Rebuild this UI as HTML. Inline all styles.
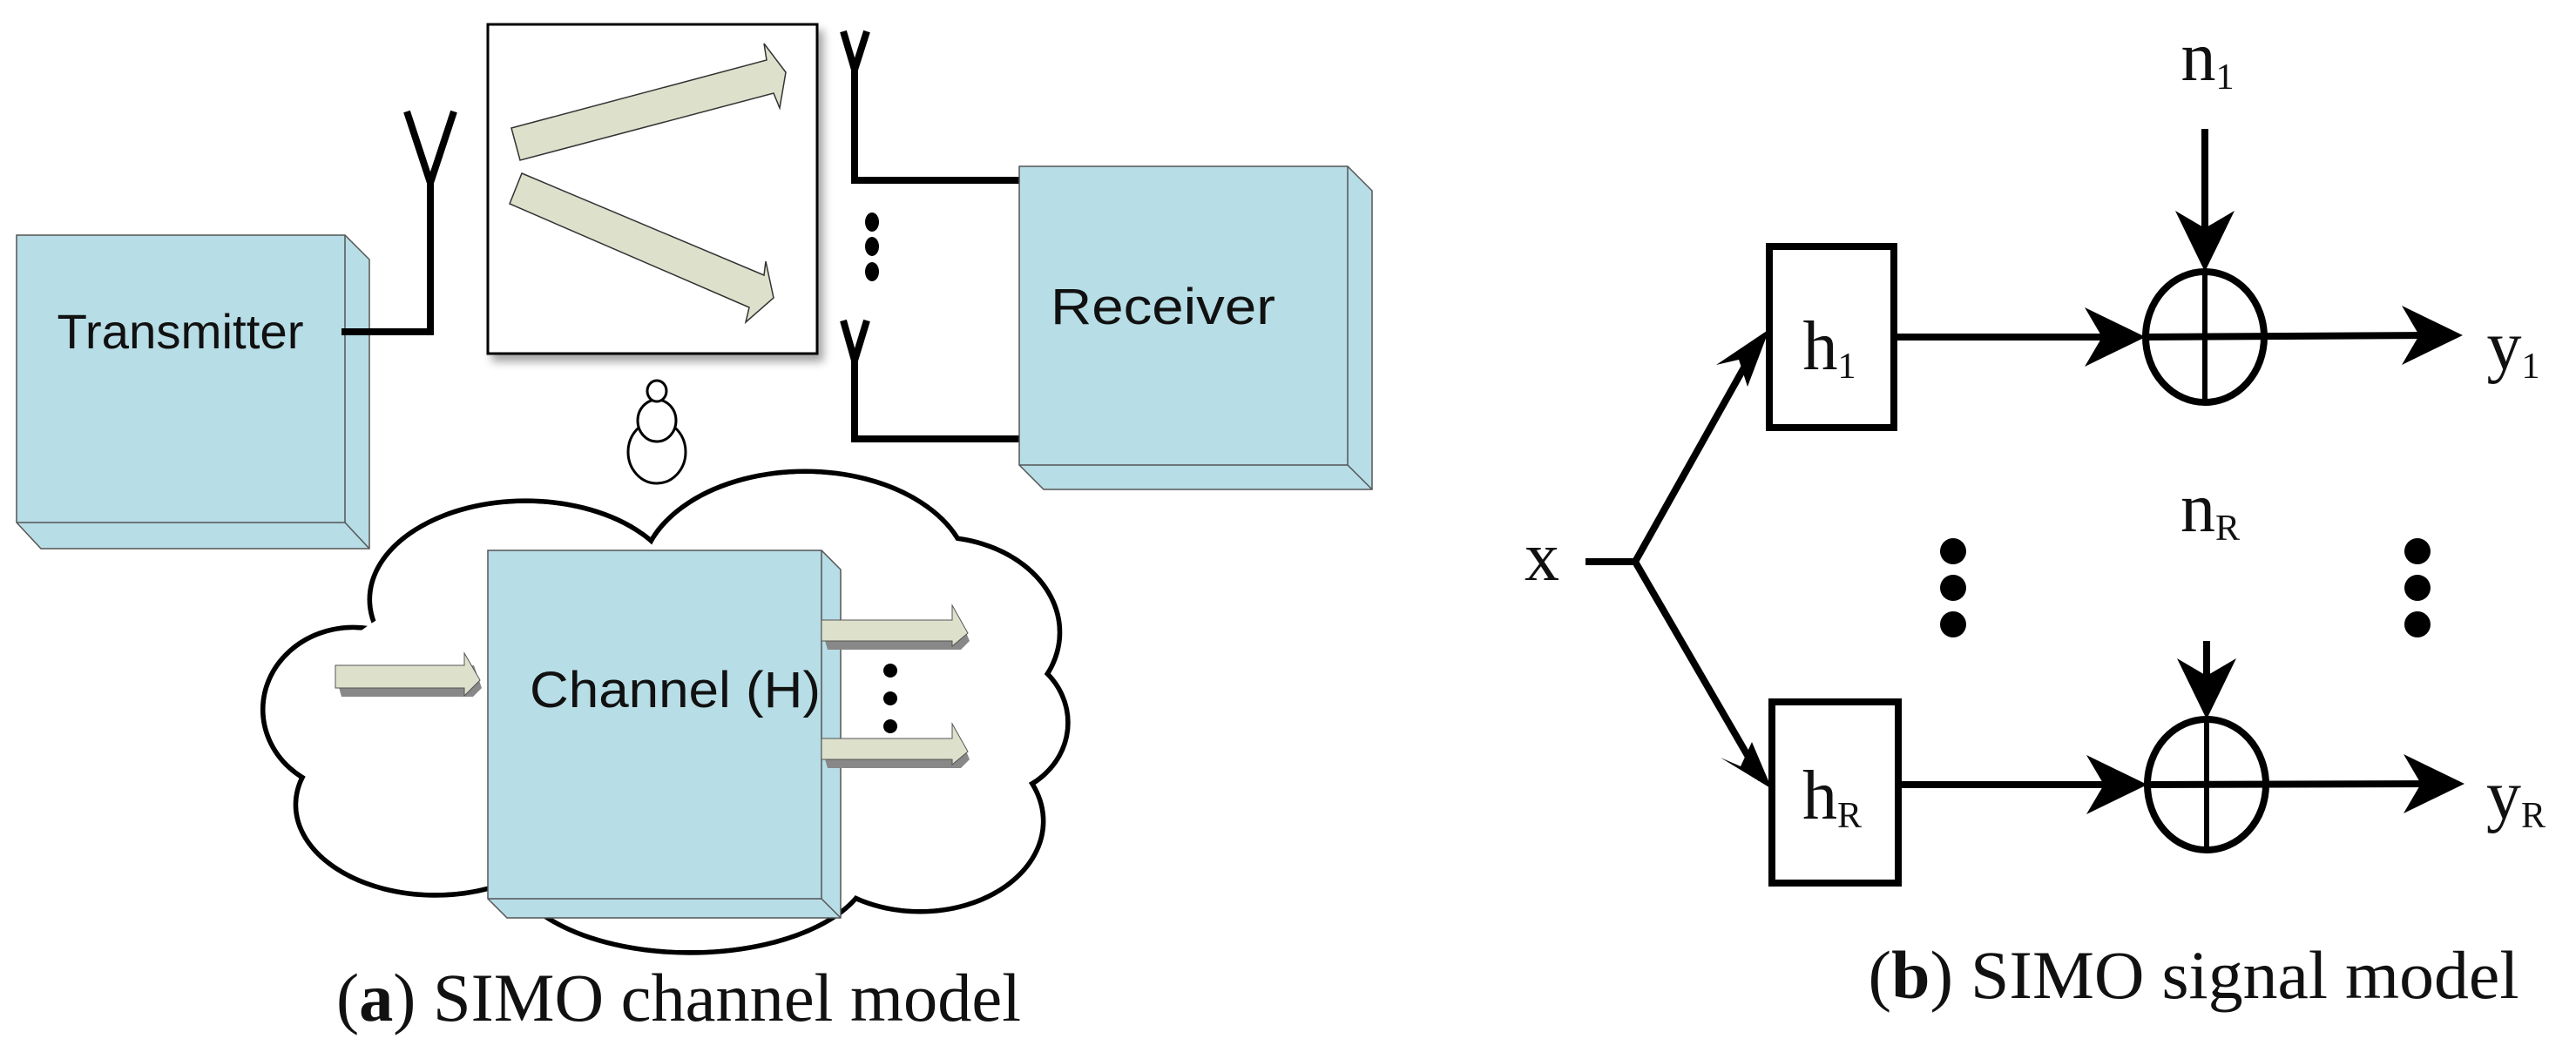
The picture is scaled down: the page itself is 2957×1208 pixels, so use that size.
<!DOCTYPE html>
<html><head><meta charset="utf-8"><style>
html,body{margin:0;padding:0;background:#fff;}
svg{display:block;}
</style></head><body>
<svg width="2957" height="1208" viewBox="0 0 2957 1208" xmlns="http://www.w3.org/2000/svg">
<defs>
<filter id="sh" x="-10%" y="-10%" width="130%" height="130%"><feDropShadow dx="6" dy="8" stdDeviation="5" flood-color="#000" flood-opacity="0.35"/></filter>
</defs>
<!-- Transmitter box -->
<polygon points="19,270 396,270 424,298 424,630 47,630 19,600" fill="#b7dde6" stroke="#555" stroke-width="1.5"/>
<line x1="396" y1="270" x2="396" y2="600" stroke="#555" stroke-width="1.5"/>
<line x1="19" y1="600" x2="396" y2="600" stroke="#555" stroke-width="1.5"/>
<line x1="396" y1="600" x2="424" y2="630" stroke="#555" stroke-width="1.5"/>
<text x="207" y="400" font-family="Liberation Sans, sans-serif" font-size="56" text-anchor="middle" textLength="283" lengthAdjust="spacingAndGlyphs" fill="#111">Transmitter</text>
<!-- Tx antenna -->
<polyline points="392,381 494,381 494,210" fill="none" stroke="#000" stroke-width="8"/>
<polyline points="467,128 494,210 521,128" fill="none" stroke="#000" stroke-width="8"/>
<!-- Cloud (overview coords scaled) -->
<g transform="scale(1.886)">
<g stroke="#000" stroke-width="3" fill="#fff">
<ellipse cx="320" cy="365" rx="95" ry="60"/>
<ellipse cx="490" cy="352" rx="100" ry="65"/>
<ellipse cx="570" cy="385" rx="75" ry="58"/>
<ellipse cx="600" cy="440" rx="50" ry="45"/>
<ellipse cx="560" cy="500" rx="75" ry="55"/>
<ellipse cx="420" cy="525" rx="110" ry="55"/>
<ellipse cx="265" cy="490" rx="85" ry="55"/>
<ellipse cx="215" cy="432" rx="55" ry="50"/>
</g>
<g fill="#fff">
<ellipse cx="320" cy="365" rx="93.5" ry="58.5"/>
<ellipse cx="490" cy="352" rx="98.5" ry="63.5"/>
<ellipse cx="570" cy="385" rx="73.5" ry="56.5"/>
<ellipse cx="600" cy="440" rx="48.5" ry="43.5"/>
<ellipse cx="560" cy="500" rx="73.5" ry="53.5"/>
<ellipse cx="420" cy="525" rx="108.5" ry="53.5"/>
<ellipse cx="265" cy="490" rx="83.5" ry="53.5"/>
<ellipse cx="215" cy="432" rx="53.5" ry="48.5"/>
<ellipse cx="410" cy="440" rx="225" ry="105"/>
</g>
</g>
<!-- scatter box -->
<rect x="560" y="28" width="378" height="378" fill="#fff" stroke="#000" stroke-width="3" filter="url(#sh)"/>
<polygon points="587,147 880,69 877,50 902,83 895,124 888,107 597,184" fill="#dde1cc" stroke="#333" stroke-width="1.5"/>
<polygon points="599,199 877,316 879,300 888,342 856,370 860,353 585,234" fill="#dde1cc" stroke="#333" stroke-width="1.5"/>
<!-- Rx antennas -->
<polyline points="981,80 981,207 1170,207" fill="none" stroke="#000" stroke-width="8"/>
<polyline points="968,36 981,80 995,36" fill="none" stroke="#000" stroke-width="8"/>
<polyline points="981,414 981,504 1170,504" fill="none" stroke="#000" stroke-width="8"/>
<polyline points="968,368 981,414 995,368" fill="none" stroke="#000" stroke-width="8"/>
<ellipse cx="1001" cy="255" rx="8" ry="11" fill="#000"/>
<ellipse cx="1001" cy="283" rx="8" ry="11" fill="#000"/>
<ellipse cx="1001" cy="312" rx="8" ry="11" fill="#000"/>
<!-- Receiver box -->
<polygon points="1170,191 1547,191 1575,219 1575,562 1198,562 1170,534" fill="#b7dde6" stroke="#555" stroke-width="1.5"/>
<line x1="1547" y1="191" x2="1547" y2="534" stroke="#555" stroke-width="1.5"/>
<line x1="1170" y1="534" x2="1547" y2="534" stroke="#555" stroke-width="1.5"/>
<line x1="1547" y1="534" x2="1575" y2="562" stroke="#555" stroke-width="1.5"/>
<text x="1335" y="372" font-family="Liberation Sans, sans-serif" font-size="58" text-anchor="middle" textLength="258" lengthAdjust="spacingAndGlyphs" fill="#111">Receiver</text>
<!-- bubbles -->
<g stroke="#000" stroke-width="3" fill="#fff">
<ellipse cx="754" cy="519" rx="33" ry="36"/>
<ellipse cx="754" cy="483" rx="22" ry="24"/>
<ellipse cx="754" cy="449" rx="11" ry="12"/>
</g>
<!-- channel box -->
<polygon points="560,632 943,632 965,654 965,1054 582,1054 560,1032" fill="#b7dde6" stroke="#555" stroke-width="1.5"/>
<line x1="943" y1="632" x2="943" y2="1032" stroke="#555" stroke-width="1.5"/>
<line x1="560" y1="1032" x2="943" y2="1032" stroke="#555" stroke-width="1.5"/>
<line x1="943" y1="1032" x2="965" y2="1054" stroke="#555" stroke-width="1.5"/>
<text x="775" y="812" font-family="Liberation Sans, sans-serif" font-size="58" text-anchor="middle" textLength="334" lengthAdjust="spacingAndGlyphs" fill="#111">Channel (H)</text>
<!-- input arrow -->
<polygon points="385,775 392,800 543,800 553,790 544,764" fill="#888"/>
<polygon points="385,764 533,764 533,750 551,781 533,799 533,790 385,790" fill="#dde1cc" stroke="#555" stroke-width="1"/>
<!-- output arrows -->
<polygon points="943,722 950,746 1103,746 1113,736 1103,712" fill="#888"/>
<polygon points="943,712 1093,712 1093,695 1111,727 1093,742 1093,736 943,736" fill="#dde1cc" stroke="#555" stroke-width="1"/>
<polygon points="943,858 950,882 1103,882 1113,872 1103,848" fill="#888"/>
<polygon points="943,848 1093,848 1093,831 1111,863 1093,878 1093,872 943,872" fill="#dde1cc" stroke="#555" stroke-width="1"/>
<circle cx="1022" cy="770" r="8" fill="#000"/>
<circle cx="1022" cy="802" r="8" fill="#000"/>
<circle cx="1022" cy="834" r="8" fill="#000"/>
<text x="779" y="1172" font-family="Liberation Serif, serif" font-size="78" text-anchor="middle" textLength="786" lengthAdjust="spacingAndGlyphs" fill="#111">(<tspan font-weight="bold">a</tspan>) SIMO channel model</text>

<!-- Right panel -->
<g stroke="#000" stroke-width="8" fill="none">
<rect x="2031" y="283" width="143" height="208"/>
<rect x="2034" y="806" width="145" height="208"/>
<polyline points="1820,645 1877,645 2020,390"/>
<polyline points="1877,645 2022,895"/>
<line x1="2178" y1="387" x2="2440" y2="387"/>
<line x1="2182" y1="901" x2="2440" y2="901"/>
<ellipse cx="2531" cy="387" rx="68" ry="75"/>
<ellipse cx="2533" cy="901" rx="68" ry="75"/>
<line x1="2531" y1="312" x2="2531" y2="462" stroke-width="6"/>
<line x1="2463" y1="387" x2="2800" y2="385"/>
<line x1="2533" y1="826" x2="2533" y2="976" stroke-width="6"/>
<line x1="2465" y1="901" x2="2800" y2="900"/>
<line x1="2531" y1="148" x2="2531" y2="270"/>
<line x1="2533" y1="736" x2="2533" y2="785"/>
</g>
<g fill="#000">
<polygon points="2463,387 2393,353 2413,387 2393,421"/>
<polygon points="2827,385 2757,351 2777,385 2757,419"/>
<polygon points="2465,901 2395,867 2415,901 2395,935"/>
<polygon points="2829,900 2759,866 2779,900 2759,934"/>
<polygon points="2531,312 2497,242 2531,262 2565,242"/>
<polygon points="2533,826 2499,756 2533,776 2567,756"/>
<polygon points="2031,378 1970,419 1996,413 2006,444"/>
<polygon points="2034,906 1975,870 1998,880 2011,852"/>
<circle cx="2242" cy="633" r="15"/><circle cx="2242" cy="675" r="15"/><circle cx="2242" cy="717" r="15"/>
<circle cx="2775" cy="633" r="15"/><circle cx="2775" cy="675" r="15"/><circle cx="2775" cy="717" r="15"/>
</g>
<g font-family="Liberation Serif, serif" fill="#111">
<text x="1750" y="666" font-size="80">x</text>
<text x="2100" y="424" font-size="80" text-anchor="middle">h<tspan font-size="42" dy="10">1</tspan></text>
<text x="2103" y="940" font-size="80" text-anchor="middle">h<tspan font-size="42" dy="10">R</tspan></text>
<text x="2534" y="92" font-size="80" text-anchor="middle">n<tspan font-size="42" dy="10">1</tspan></text>
<text x="2537" y="610" font-size="80" text-anchor="middle">n<tspan font-size="42" dy="10">R</tspan></text>
<text x="2885" y="424" font-size="80" text-anchor="middle">y<tspan font-size="42" dy="10">1</tspan></text>
<text x="2888" y="940" font-size="80" text-anchor="middle">y<tspan font-size="42" dy="10">R</tspan></text>
<text x="2518" y="1146" font-size="78" text-anchor="middle" textLength="747" lengthAdjust="spacingAndGlyphs">(<tspan font-weight="bold">b</tspan>) SIMO signal model</text>
</g>
</svg>
</body></html>
